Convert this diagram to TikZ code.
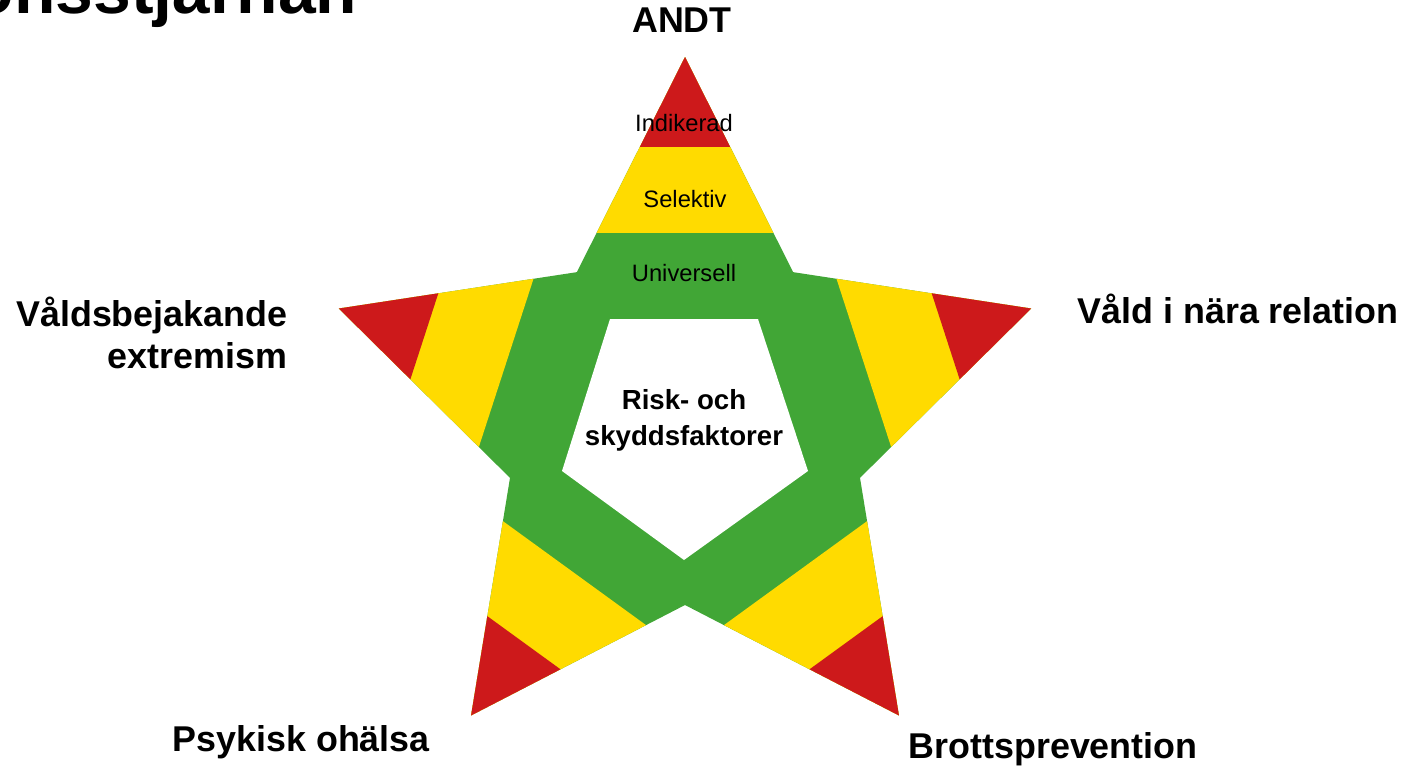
\documentclass[tikz,border=0pt]{standalone}
\usepackage{fontspec}
\setmainfont{Liberation Sans}
\usetikzlibrary{calc}
\definecolor{armred}{RGB}{205,25,27}
\definecolor{armyellow}{RGB}{255,219,0}
\definecolor{armgreen}{RGB}{65,166,54}
\tikzstyle{armlabel} = [inner sep=0pt, font=\fontsize{10.2}{11.7}\selectfont\bfseries]
\tikzstyle{levellabel} = [inner sep=0pt, font=\fontsize{6.75}{8}\selectfont]

\begin{document}
\begin{tikzpicture}
\useasboundingbox (-6.85,-3.55) rectangle (7.19,4.21);
\clip (-6.85,-3.55) rectangle (7.19,4.21);

% star
\fill[armgreen] (90:3.64) -- (126:1.84) -- (162:3.64) -- (198:1.84) -- (234:3.64) -- (270:1.84)
  -- (306:3.64) -- (342:1.84) -- (18:3.64) -- (54:1.84) -- cycle;

% bands on each arm
\foreach \a in {90,162,234,306,18}{
  \coordinate (tip) at (\a:3.64);
  \coordinate (left) at (\a+36:1.84);
  \coordinate (right) at (\a-36:1.84);
  \fill[armyellow] (tip) -- ($(tip)!0.818!(left)$) -- ($(tip)!0.818!(right)$) -- cycle;
  \fill[armred] (tip) -- ($(tip)!0.418!(left)$) -- ($(tip)!0.418!(right)$) -- cycle;
}

% inner pentagon
\fill[white] (-0.75,1.02) -- (0.73,1.02) -- (1.23,-0.50) -- (-0.01,-1.39) -- (-1.23,-0.50) -- cycle;

\node[inner sep=0pt, anchor=base east, font=\fontsize{19.3}{22}\selectfont\bfseries] (title) at (-3.27,4.08) {Preventionsstjärnan};

\node[armlabel, anchor=base] (andt) at (-0.03,3.88) {ANDT};
\node[armlabel, anchor=base east, align=right] (extremism) at (-3.97,0.53) {Våldsbejakande\\extremism};
\node[armlabel, anchor=base west] (relation) at (3.92,0.98) {Våld i nära relation};
\node[armlabel, anchor=base west] (ohalsa) at (-5.13,-3.30) {Psykisk ohälsa};
\node[armlabel, anchor=base west] (brott) at (2.23,-3.37) {Brottsprevention};

\node[levellabel, anchor=base] (indikerad) at (-0.01,2.90) {Indikerad};
\node[levellabel, anchor=base] (selektiv) at (0,2.14) {Selektiv};
\node[levellabel, anchor=base] (universell) at (-0.01,1.40) {Universell};
\node[inner sep=0pt, anchor=base, align=center, font=\fontsize{7.86}{10}\selectfont\bfseries] (faktorer) at (-0.01,-0.24) {Risk- och\\skyddsfaktorer};
\end{tikzpicture}
\end{document}
